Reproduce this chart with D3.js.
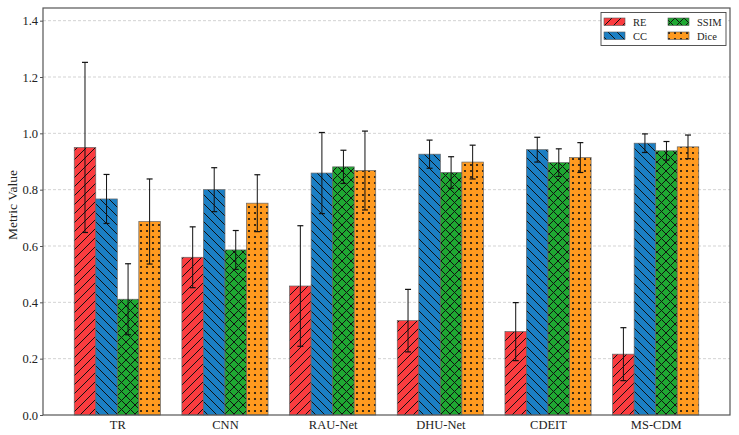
<!DOCTYPE html>
<html><head><meta charset="utf-8">
<script src="https://cdn.jsdelivr.net/npm/d3@7"></script>
<style>body{margin:0;background:#fff}svg{display:block}</style>
</head><body><svg id="c" width="739" height="435"></svg>
<script>
const categories = ["TR","CNN","RAU-Net","DHU-Net","CDEIT","MS-CDM"];
const seriesNames = ["RE","CC","SSIM","Dice"];
const reMean   = [0.950,0.560,0.458,0.335,0.296,0.216];
const reStd    = [0.302,0.108,0.214,0.111,0.103,0.094];
const ccMean   = [0.767,0.800,0.859,0.926,0.942,0.965];
const ccStd    = [0.087,0.078,0.144,0.050,0.044,0.033];
const ssimMean = [0.411,0.586,0.881,0.861,0.896,0.938];
const ssimStd  = [0.126,0.069,0.059,0.056,0.049,0.033];
const diceMean = [0.687,0.752,0.868,0.898,0.914,0.952];
const diceStd  = [0.151,0.101,0.140,0.060,0.053,0.042];
const yTicks = [0.0,0.2,0.4,0.6,0.8,1.0,1.2,1.4];

const means = [reMean, ccMean, ssimMean, diceMean];
const stds = [reStd, ccStd, ssimStd, diceStd];
const colors = ["#fb3c3f","#1b7fc4","#1fa832","#ff9a1f"];
const hatches = ["fwd","back","cross","dots"];

const svg = d3.select("#c");
const L = 43, R = 730, T = 8, B = 415;
const n = categories.length;
const x = d3.scaleLinear().domain([-0.69, n - 1 + 0.69]).range([L, R]);
const y = d3.scaleLinear().domain([0, 1.445]).range([B, T]);
const bw = 0.2;
const FONT = "Liberation Serif";

// patterns
const defs = svg.append("defs");
function mkPattern(id, color, kind) {
  const s = kind === "dots" ? 6 : 9;
  const p = defs.append("pattern").attr("id", id).attr("patternUnits", "userSpaceOnUse")
    .attr("width", s).attr("height", s);
  p.append("rect").attr("width", s).attr("height", s).attr("fill", color);
  const sc = "#111", sw = 1;
  if (kind === "fwd" || kind === "cross") {
    p.append("path").attr("d", `M0,${s} L${s},0 M${-s/2},${s/2} L${s/2},${-s/2} M${s/2},${s*1.5} L${s*1.5},${s/2}`).attr("stroke", sc).attr("stroke-width", sw);
  }
  if (kind === "back" || kind === "cross") {
    p.append("path").attr("d", `M0,0 L${s},${s} M${-s/2},${s/2} L${s/2},${s*1.5} M${s/2},${-s/2} L${s*1.5},${s/2}`).attr("stroke", sc).attr("stroke-width", sw);
  }
  if (kind === "dots") {
    p.append("circle").attr("cx", s/2).attr("cy", s/2).attr("r", 1.1).attr("fill", "#111");
  }
}
seriesNames.forEach((s, i) => mkPattern("pat" + i, colors[i], hatches[i]));

// grid
svg.append("g").selectAll("line").data(yTicks.filter(t => t > 0)).join("line")
  .attr("x1", L).attr("x2", R).attr("y1", d => y(d)).attr("y2", d => y(d))
  .attr("stroke", "#c8c8c8").attr("stroke-width", 0.8).attr("stroke-dasharray", "3,2");

// bars
seriesNames.forEach((s, si) => {
  const g = svg.append("g");
  const data = categories.map((c, ci) => ({ci, m: means[si][ci], sd: stds[si][ci]}));
  g.selectAll("rect").data(data).join("rect")
    .attr("x", d => x(d.ci - 0.4 + si * bw))
    .attr("width", x(bw) - x(0))
    .attr("y", d => y(d.m))
    .attr("height", d => y(0) - y(d.m))
    .attr("fill", `url(#pat${si})`)
    .attr("stroke", "#666").attr("stroke-width", 0.7);
  const cx = d => x(d.ci - 0.4 + si * bw + bw / 2);
  g.selectAll("line.e").data(data).join("line").attr("class", "e")
    .attr("x1", cx).attr("x2", cx).attr("y1", d => y(d.m + d.sd)).attr("y2", d => y(d.m - d.sd))
    .attr("stroke", "#111").attr("stroke-width", 1);
  [1, -1].forEach(sg => {
    g.selectAll("line.c" + sg).data(data).join("line")
      .attr("x1", d => cx(d) - 3).attr("x2", d => cx(d) + 3)
      .attr("y1", d => y(d.m + sg * d.sd)).attr("y2", d => y(d.m + sg * d.sd))
      .attr("stroke", "#111").attr("stroke-width", 1.2);
  });
});

// frame
svg.append("rect").attr("x", L).attr("y", T).attr("width", R - L).attr("height", B - T)
  .attr("fill", "none").attr("stroke", "#555").attr("stroke-width", 1.2);

// y axis
const yAxis = d3.axisLeft(y).tickValues(yTicks).tickFormat(d3.format(".1f")).tickSize(3).tickPadding(2);
const ya = svg.append("g").attr("transform", `translate(${L},0)`).call(yAxis);
ya.select(".domain").remove();
ya.selectAll("line").attr("stroke", "#555");
ya.selectAll("text").attr("font-family", FONT).attr("font-size", 12.5).attr("fill", "#222");

// x axis
const xAxis = d3.axisBottom(x).tickValues(d3.range(n)).tickFormat(i => categories[i]).tickSize(0).tickPadding(5);
const xa = svg.append("g").attr("transform", `translate(0,${B})`).call(xAxis);
xa.select(".domain").remove();
xa.selectAll("text").attr("font-family", FONT).attr("font-size", 12.5).attr("fill", "#222");

svg.append("text").attr("transform", `translate(17,205) rotate(-90)`)
  .attr("text-anchor", "middle").attr("font-family", FONT).attr("font-size", 13.5)
  .attr("fill", "#222").text("Metric Value");

// legend
const lg = svg.append("g");
lg.append("rect").attr("x", 601).attr("y", 12.5).attr("width", 125).attr("height", 33)
  .attr("fill", "#fff").attr("stroke", "#444").attr("stroke-width", 0.9);
const pos = [[604, 18], [604, 32], [668, 18], [668, 32]];
seriesNames.forEach((s, i) => {
  const [px, py] = pos[i];
  lg.append("rect").attr("x", px).attr("y", py).attr("width", 21).attr("height", 7.5)
    .attr("fill", `url(#pat${i})`).attr("stroke", "#555").attr("stroke-width", 0.6);
  lg.append("text").attr("x", px + 29).attr("y", py + 7.5).attr("font-family", FONT)
    .attr("font-size", 10.5).attr("fill", "#222").text(s);
});
</script></body></html>
